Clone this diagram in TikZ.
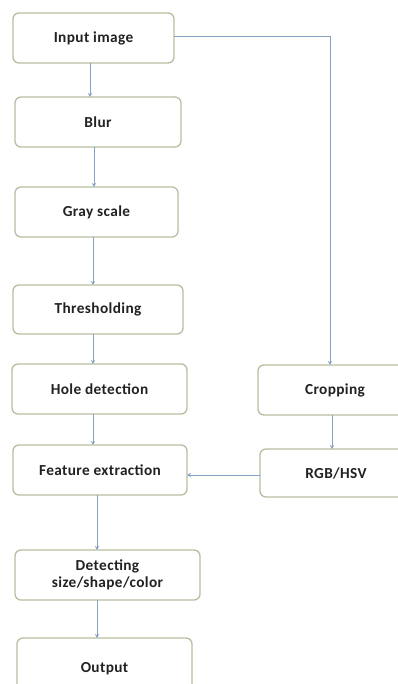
\documentclass[tikz,border=0pt]{standalone}
\usepackage{fontspec}
\setmainfont{Carlito}[LetterSpace=2.5]
\usetikzlibrary{arrows.meta}
\definecolor{boxedge}{HTML}{B7BFA2}
\definecolor{flow}{HTML}{86A2C2}
\definecolor{ink}{HTML}{222222}
\tikzset{
  stage/.style={draw=boxedge, line width=1.3pt, rounded corners=6pt, fill=white,
    text=ink, font=\fontsize{15.3}{17}\selectfont\bfseries, align=center,
    inner sep=0pt, outer sep=0pt},
  arr/.style={draw=flow, line width=1pt, -{Stealth[length=4pt,width=4pt]}}
}
\begin{document}
\begin{tikzpicture}[x=1pt,y=-1pt]
  \useasboundingbox (0,0) rectangle (398,684);
  \clip (0,0) rectangle (398,684);
  \fill[white] (0,0) rectangle (398,684);

  % main processing column
  \node[stage, minimum width=161pt, minimum height=50pt] (in)   at (93.5,38)  {Input image};
  \node[stage, minimum width=166pt, minimum height=50pt] (blur) at (98,122)   {Blur};
  \node[stage, minimum width=163pt, minimum height=50pt] (gray) at (96.5,212) {Gray scale};
  \node[stage, minimum width=170pt, minimum height=49pt] (thr)  at (98,309.5) {\raisebox{-3pt}{Thresholding}};
  \node[stage, minimum width=175pt, minimum height=50pt] (hole) at (99.5,389) {Hole detection};
  \node[stage, minimum width=174pt, minimum height=50pt] (feat) at (100,470)  {Feature extraction};
  \node[stage, minimum width=185pt, minimum height=50pt] (det)  at (107.5,575) {Detecting\\size/shape/color};
  \node[stage, minimum width=175pt, minimum height=62pt] (out)  at (104.5,669) {Output};

  % colour branch
  \node[stage, minimum width=154pt, minimum height=50pt] (crop) at (335,390) {Cropping};
  \node[stage, minimum width=152pt, minimum height=48pt] (rgb)  at (336,473) {RGB/HSV};

  % connectors of the main column
  \draw[arr] ([xshift=-3.5pt]in.south)  -- ([xshift=-3.5pt]in.south |- blur.north);
  \draw[arr] ([xshift=-4pt]blur.south)  -- ([xshift=-4pt]blur.south |- gray.north);
  \draw[arr] ([xshift=-3.5pt]gray.south) -- ([xshift=-3.5pt]gray.south |- thr.north);
  \draw[arr] ([xshift=-5pt]thr.south)   -- ([xshift=-5pt]thr.south |- hole.north);
  \draw[arr] ([xshift=-6.5pt]hole.south) -- ([xshift=-6.5pt]hole.south |- feat.north);
  \draw[arr] ([xshift=-3pt]feat.south)  -- ([xshift=-3pt]feat.south |- det.north);
  \draw[arr] ([xshift=-10.5pt]det.south) -- ([xshift=-10.5pt]det.south |- out.north);

  % branch connectors
  \draw[arr] ([yshift=1pt]in.east) -| ([xshift=-5pt]crop.north);
  \draw[arr] ([xshift=-3pt]crop.south) -- ([xshift=-3pt]crop.south |- rgb.north);
  \draw[arr] ([yshift=-2pt]rgb.west) -- ([yshift=-2pt]rgb.west -| feat.east);
\end{tikzpicture}
\end{document}
